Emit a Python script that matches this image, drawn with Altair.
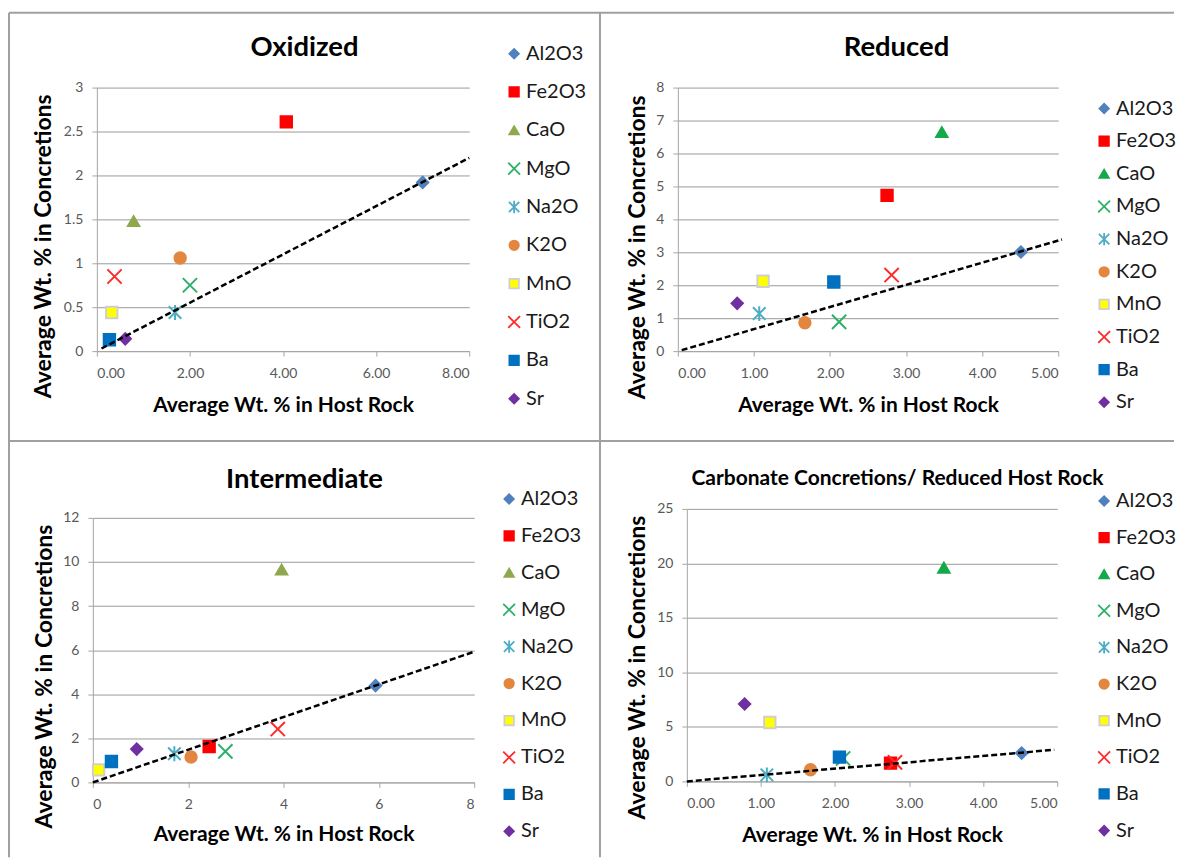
import altair as alt
import pandas as pd

FONT = "Lato"

elements = ["Al2O3", "Fe2O3", "CaO", "MgO", "Na2O", "K2O", "MnO", "TiO2", "Ba", "Sr"]

# Oxidized
ox_host = [7.00, 4.07, 0.79, 2.00, 1.68, 1.79, 0.32, 0.38, 0.27, 0.61]
ox_conc = [1.92, 2.61, 1.48, 0.75, 0.44, 1.06, 0.44, 0.85, 0.13, 0.14]
ox_line_x = [0.1, 8.0]
ox_line_y = [0.03, 2.2]

# Reduced
red_host = [4.51, 2.75, 3.47, 2.12, 1.07, 1.67, 1.12, 2.81, 2.05, 0.78]
red_conc = [3.01, 4.73, 6.65, 0.89, 1.14, 0.86, 2.12, 2.31, 2.10, 1.45]
red_line_x = [0.05, 5.05]
red_line_y = [0.03, 3.39]

# Intermediate
int_host = [5.93, 2.44, 3.96, 2.78, 1.71, 2.06, 0.12, 3.88, 0.39, 0.92]
int_conc = [4.39, 1.63, 9.65, 1.41, 1.30, 1.15, 0.57, 2.42, 0.95, 1.51]
int_line_x = [0.0, 8.0]
int_line_y = [0.0, 5.93]

# Carbonate concretions / reduced host rock
carb_host = [4.52, 2.75, 3.47, 2.11, 1.08, 1.67, 1.12, 2.81, 2.06, 0.78]
carb_conc = [2.60, 1.68, 19.6, 2.10, 0.60, 1.07, 5.40, 1.75, 2.23, 7.10]
carb_line_x = [0.0, 4.96]
carb_line_y = [0.0, 2.9]

titles = ["Oxidized", "Reduced", "Intermediate", "Carbonate Concretions/ Reduced Host Rock"]

X_PATH = "M-1.25,-1.25L1.25,1.25M-1.25,1.25L1.25,-1.25"
STAR_PATH = "M-1.1,-1.1L1.1,1.1M-1.1,1.1L1.1,-1.1M0,-1.3L0,1.3"
shapes = ["diamond", "square", "triangle-up", X_PATH, STAR_PATH, "circle", "square", X_PATH, "square", "diamond"]

fills_olive = ["#4F81BD", "#FF0000", "#8FA84E", "transparent", "transparent", "#E3863F", "#FFFF00", "transparent", "#0070C0", "#7030A0"]
strokes_olive = ["#4F81BD", "#FF0000", "#8FA84E", "#2EB06A", "#4BACC6", "#E3863F", "#CFCFCF", "#FF2A2A", "#0070C0", "#7030A0"]
fills_green = ["#4F81BD", "#FF0000", "#14A94A", "transparent", "transparent", "#E3863F", "#FFFF00", "transparent", "#0070C0", "#7030A0"]
strokes_green = ["#4F81BD", "#FF0000", "#14A94A", "#2EB06A", "#4BACC6", "#E3863F", "#CFCFCF", "#FF2A2A", "#0070C0", "#7030A0"]

frame_df = pd.DataFrame({"k": [0]})


def hrule(x1, x2, y):
    return alt.Chart(frame_df).mark_rule(color="#A0A0A0", strokeWidth=2).encode(
        x=alt.value(x1), x2=alt.value(x2), y=alt.value(y))


def vrule(x, y1, y2):
    return alt.Chart(frame_df).mark_rule(color="#A0A0A0", strokeWidth=2).encode(
        x=alt.value(x), y=alt.value(y1), y2=alt.value(y2))


def panel(host, conc, lx, ly, fills, strokes, xdom, xvals, xfmt, ydom, yvals,
          w, h, xrange, yrange, yoff,
          title, title_size, tx, ty,
          ytx, yty, xty, legx, legy, legpad, extra=None):
    df = pd.DataFrame({"element": elements, "host": host, "conc": conc})
    ldf = pd.DataFrame({"host": lx, "conc": ly})
    xenc = alt.X("host:Q",
                 scale=alt.Scale(domain=xdom, nice=False, zero=False, range=xrange),
                 axis=alt.Axis(values=xvals, format=xfmt, grid=False,
                               title="Average Wt. % in Host Rock",
                               titleY=xty, titleBaseline="alphabetic",
                               titleFontSize=21))
    yenc = alt.Y("conc:Q",
                 scale=alt.Scale(domain=ydom, nice=False, zero=False, range=yrange),
                 axis=alt.Axis(values=yvals, format="~g", grid=True, offset=yoff,
                               title="Average Wt. % in Concretions",
                               titleX=ytx, titleY=yty, titleAngle=270,
                               titleAlign="center", titleBaseline="middle",
                               titleFontSize=23))
    leg = alt.Legend(title=None, orient="none", legendX=legx, legendY=legy,
                     rowPadding=legpad, labelOffset=2, labelFontSize=20,
                     labelFont=FONT, labelColor="#1A1A1A", symbolSize=90,
                     symbolStrokeWidth=1.8, padding=0)
    pts = alt.Chart(df).mark_point(filled=False, opacity=1, size=130, strokeWidth=2).encode(
        x=xenc, y=yenc,
        fill=alt.Fill("element:N", scale=alt.Scale(domain=elements, range=fills), legend=leg),
        stroke=alt.Stroke("element:N", scale=alt.Scale(domain=elements, range=strokes), legend=leg),
        shape=alt.Shape("element:N", scale=alt.Scale(domain=elements, range=shapes), legend=leg),
    )
    line = alt.Chart(ldf).mark_line(color="black", strokeDash=[6, 3], strokeWidth=2.5).encode(
        x=xenc, y=yenc)
    ttl = alt.Chart(frame_df).mark_text(
        font=FONT, fontSize=title_size, fontWeight="bold", align="center",
        baseline="alphabetic", color="black").encode(
        x=alt.value(tx), y=alt.value(ty), text=alt.value(title))
    layers = [pts, line, ttl]
    if extra:
        layers = extra + layers
    return alt.layer(*layers).properties(width=w, height=h)


frames = [hrule(-84, 1083, -75), vrule(-84, -75, 771), vrule(508, -75, 771), hrule(-84, 1083, 354)]

# cell origins (page px): p1 (93, 87), p2 (679, 87), p3 (93, 509), p4 (679, 509)
p1 = panel(ox_host, ox_conc, ox_line_x, ox_line_y, fills_olive, strokes_olive,
           [0, 8], [0, 2, 4, 6, 8], ".2f", [0, 3], [0, 0.5, 1, 1.5, 2, 2.5, 3],
           382, 264, [4, 377], [264, 0], -4,
           titles[0], 27.5, 212, -31.5,
           -53, 158.5, 60, 412, -44, 18.4, extra=frames)
p2 = panel(red_host, red_conc, red_line_x, red_line_y, fills_green, strokes_green,
           [0, 5], [0, 1, 2, 3, 4, 5], ".2f", [0, 8], [0, 1, 2, 3, 4, 5, 6, 7, 8],
           381, 264, [0, 381], [264, 0], 0,
           titles[1], 27.5, 219, -31.5,
           -40, 159.5, 60, 417, 11, 12.7)
p3 = panel(int_host, int_conc, int_line_x, int_line_y, fills_olive, strokes_olive,
           [0, 8], [0, 2, 4, 6, 8], "d", [0, 12], [0, 2, 4, 6, 8, 10, 12],
           382, 274, [0, 382], [274, 9], 0,
           titles[2], 27.5, 212, -21,
           -48, 167.5, 58, 407, -20, 17)
p4 = panel(carb_host, carb_conc, carb_line_x, carb_line_y, fills_green, strokes_green,
           [0, 5], [0, 1, 2, 3, 4, 5], ".2f", [0, 25], [0, 5, 10, 15, 20, 25],
           381, 273, [9, 380], [273, 0], -9,
           titles[3], 21, 220, -24,
           -49.5, 158.5, 60, 417, -18, 16.7)

RES = dict(fill="independent", stroke="independent", shape="independent")

chart = alt.concat(p1, p2, p3, p4, columns=2, spacing={"row": 158, "column": 204},
                   bounds="flush").resolve_scale(**RES).properties(
    padding={"left": 0, "top": 3, "right": 0, "bottom": 0},
    background="white",
).configure_view(strokeWidth=0).configure_axis(
    labelFont=FONT, labelFontSize=14, labelColor="#595959",
    titleFont=FONT, titleFontWeight="bold", titleColor="black",
    domainColor="#A6A6A6", tickColor="#A6A6A6", tickSize=5,
    gridColor="#9A9A9A", gridWidth=1, labelPadding=10,
).configure_axisY(labelPadding=9)

chart.save("out.html", embed_options={"renderer": "svg", "actions": False})
